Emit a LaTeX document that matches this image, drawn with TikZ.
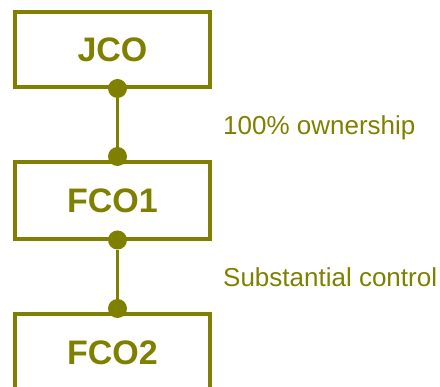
\documentclass[tikz,border=0pt]{standalone}
\usepackage{fontspec}
\setmainfont{Liberation Sans}
\definecolor{olivec}{RGB}{128,128,0}
\begin{document}
\begin{tikzpicture}[x=1pt,y=-1pt,
  entity/.style={draw=olivec,line width=4pt,minimum width=195pt,inner sep=0pt,
    font=\fontsize{34}{40}\selectfont\bfseries,text=olivec},
  joint/.style={circle,fill=olivec,draw=none,minimum size=19pt,inner sep=0pt},
  link/.style={draw=olivec,line width=2.5pt},
  lbl/.style={anchor=base west,inner sep=0pt,font=\fontsize{26}{30}\selectfont,text=olivec}]
\useasboundingbox (0,0) rectangle (440,387);
\begin{scope}
\clip (0,0) rectangle (440,387);
\node[entity,minimum height=75pt] (jco) at (112.5,49.5) {JCO};
\node[entity,minimum height=77pt] (fco1) at (112.5,200.5) {FCO1};
\node[entity,minimum height=77pt] (fco2) at (112.5,352.5) {FCO2};
\end{scope}
\node[joint] (d1) at (117.5,88.5) {};
\node[joint] (d2) at (117.5,156.5) {};
\node[joint] (d3) at (117.5,240) {};
\node[joint] (d4) at (117.5,308.5) {};
\draw[link] (d1) -- (d2);
\draw[link] (d3) -- (d4);
\node[lbl] (l1) at (223,135) {100\% ownership};
\node[lbl] (l2) at (223,286.5) {Substantial control};
\end{tikzpicture}
\end{document}
